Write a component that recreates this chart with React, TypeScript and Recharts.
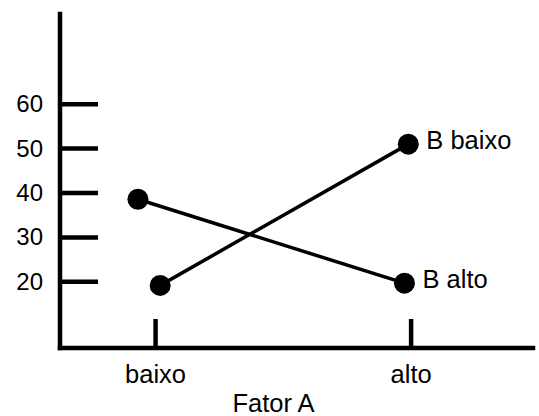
import React from "react";
import { LineChart, Line, XAxis, YAxis } from "recharts";

// Fator A levels (x positions 0 and 1 on a numeric axis)
const categories = ["baixo", "alto"];
const xTicks = [0, 1];
const yTicks = [20, 30, 40, 50, 60];

// x carries the slight horizontal offset of each dot
const bBaixoX = [0.018, 0.989];
const bBaixoY = [19.2, 51.0];
const bAltoX = [-0.069, 0.974];
const bAltoY = [38.6, 19.7];

const seriesNames = ["B baixo", "B alto"];

const FONT = "'Liberation Sans', Arial, Helvetica, sans-serif";
const NUM_SIZE = 24;
const TEXT_SIZE = 25.5;

const toPoints = (xs: number[], ys: number[]) =>
  xs.map((x, i) => ({ x, y: ys[i] }));

const bBaixo = toPoints(bBaixoX, bBaixoY);
const bAlto = toPoints(bAltoX, bAltoY);

// y ticks point inward (to the right of the axis), label sits to the left
function YTick(props: any) {
  const { x, y, payload } = props;
  return (
    <g>
      <line x1={x + 2} x2={x + 38} y1={y} y2={y} stroke="#000" strokeWidth={4.5} />
      <text
        x={x - 17}
        y={y + 8}
        textAnchor="end"
        fontFamily={FONT}
        fontSize={NUM_SIZE}
        fill="#000"
      >
        {payload.value}
      </text>
    </g>
  );
}

// x ticks point upward, label below the axis
function XTick(props: any) {
  const { x, y, payload } = props;
  return (
    <g>
      <line x1={x} x2={x} y1={y - 2} y2={y - 29} stroke="#000" strokeWidth={4.5} />
      <text
        x={x}
        y={y + 35}
        textAnchor="middle"
        fontFamily={FONT}
        fontSize={TEXT_SIZE}
        fill="#000"
      >
        {categories[payload.value]}
      </text>
    </g>
  );
}

function endLabel(name: string) {
  return (props: any) => {
    const { x, y, index } = props;
    if (index !== 1) return <g />;
    return (
      <text
        x={x + 18}
        y={y + 5}
        fontFamily={FONT}
        fontSize={TEXT_SIZE}
        fill="#000"
      >
        {name}
      </text>
    );
  };
}

export default function App() {
  return (
    <div style={{ position: "absolute", left: 0, top: 0, background: "#fff" }}>
      <LineChart
        width={539}
        height={416}
        margin={{ top: 14, right: 6, bottom: 0, left: 0 }}
      >
        <XAxis
          dataKey="x"
          type="number"
          domain={[-0.374, 1.477]}
          ticks={xTicks}
          height={68}
          tickSize={0}
          tickMargin={0}
          tickLine={false}
          axisLine={{ stroke: "#000", strokeWidth: 4.5, strokeLinecap: "square" }}
          tick={<XTick />}
          allowDataOverflow
          label={{
            content: (p: any) => {
              const vb = p.viewBox;
              return (
                <text
                  x={vb.x + vb.width / 2 - 23}
                  y={vb.y + 64}
                  textAnchor="middle"
                  fontFamily={FONT}
                  fontSize={TEXT_SIZE}
                  fill="#000"
                >
                  Fator A
                </text>
              );
            },
          }}
        />
        <YAxis
          type="number"
          domain={[5.1, 80.3]}
          ticks={yTicks}
          width={60}
          tickSize={0}
          tickMargin={0}
          tickLine={false}
          axisLine={{ stroke: "#000", strokeWidth: 4.5, strokeLinecap: "square" }}
          tick={<YTick />}
          allowDataOverflow
        />
        <Line
          data={bBaixo}
          dataKey="y"
          stroke="#000"
          strokeWidth={3.5}
          dot={{ r: 10.5, fill: "#000", stroke: "#000", strokeWidth: 0 }}
          activeDot={false}
          label={endLabel(seriesNames[0])}
          isAnimationActive={false}
        />
        <Line
          data={bAlto}
          dataKey="y"
          stroke="#000"
          strokeWidth={3.5}
          dot={{ r: 10.5, fill: "#000", stroke: "#000", strokeWidth: 0 }}
          activeDot={false}
          label={endLabel(seriesNames[1])}
          isAnimationActive={false}
        />
      </LineChart>
    </div>
  );
}
